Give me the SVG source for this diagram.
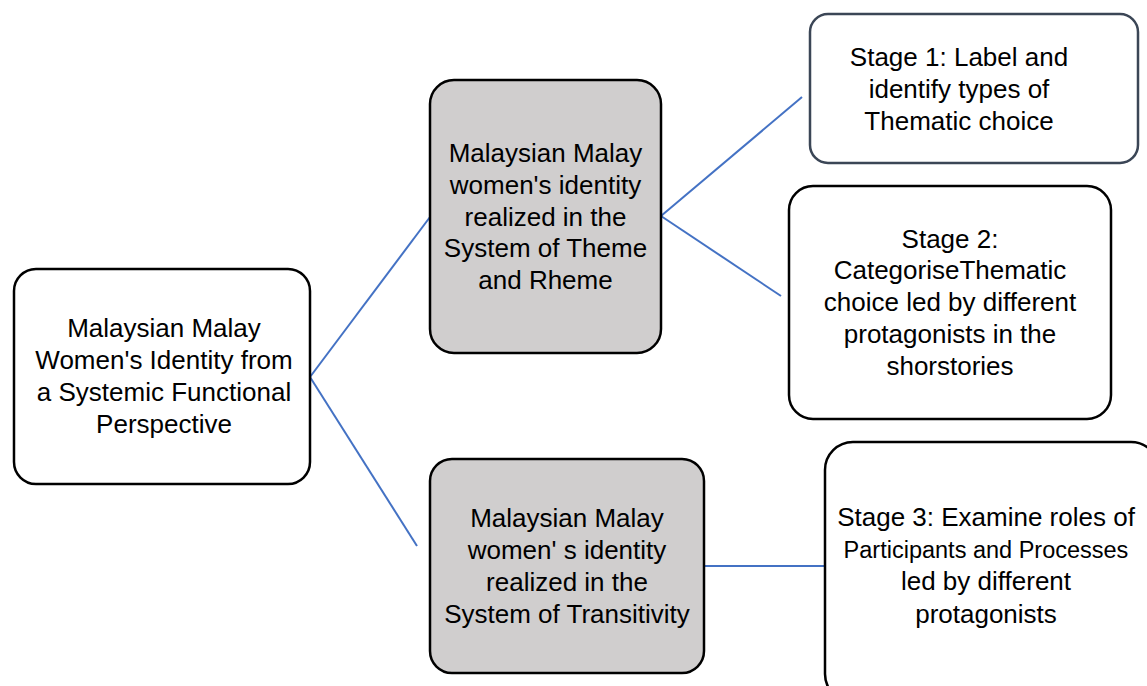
<svg xmlns="http://www.w3.org/2000/svg" width="1147" height="686" viewBox="0 0 1147 686">
<style>
.box{fill:#ffffff;stroke:#000000;stroke-width:2.5}
.gray{fill:#d0cece;stroke:#000000;stroke-width:2.5}
.slate{fill:#ffffff;stroke:#3b4656;stroke-width:2.5}
.t{font-family:"Liberation Sans",Arial,sans-serif;font-size:26px;fill:#000000;text-anchor:middle}
.c{stroke:#4472c4;stroke-width:2;fill:none}
</style>
<rect width="1147" height="686" fill="#ffffff"/>
<g id="connectors">
<line class="c" x1="310" y1="377" x2="430" y2="217"/>
<line class="c" x1="310" y1="377" x2="417" y2="546"/>
<line class="c" x1="661" y1="216" x2="802" y2="97"/>
<line class="c" x1="661" y1="216" x2="781" y2="296"/>
<line class="c" x1="704" y1="566" x2="825" y2="566"/>
</g>
<g id="root">
<rect class="box" x="14" y="269" width="296" height="215" rx="22"/>
<text class="t" x="164" y="337">Malaysian Malay</text>
<text class="t" x="164" y="369">Women's Identity from</text>
<text class="t" x="164" y="401">a Systemic Functional</text>
<text class="t" x="164" y="433">Perspective</text>
</g>
<g id="theme">
<rect class="gray" x="430" y="80" width="231" height="273" rx="24"/>
<text class="t" x="545.5" y="162">Malaysian Malay</text>
<text class="t" x="545.5" y="194">women's identity</text>
<text class="t" x="545.5" y="226">realized in the</text>
<text class="t" x="545.5" y="257">System of Theme</text>
<text class="t" x="545.5" y="289">and Rheme</text>
</g>
<g id="transitivity">
<rect class="gray" x="430" y="459" width="274" height="214" rx="22"/>
<text class="t" x="567" y="527">Malaysian Malay</text>
<text class="t" x="567" y="559">women' s identity</text>
<text class="t" x="567" y="591">realized in the</text>
<text class="t" x="567" y="623">System of Transitivity</text>
</g>
<g id="stage1">
<rect class="slate" x="810" y="14" width="328" height="149" rx="18"/>
<text class="t" x="959" y="66">Stage 1: Label and</text>
<text class="t" x="959" y="98">identify types of</text>
<text class="t" x="959" y="130">Thematic choice</text>
</g>
<g id="stage2">
<rect class="box" x="789" y="186" width="322" height="233" rx="24"/>
<text class="t" x="950" y="248">Stage 2:</text>
<text class="t" x="950" y="279">CategoriseThematic</text>
<text class="t" x="950" y="311">choice led by different</text>
<text class="t" x="950" y="343">protagonists  in the</text>
<text class="t" x="950" y="375">shorstories</text>
</g>
<g id="stage3">
<rect class="box" x="825" y="442" width="334" height="260" rx="28"/>
<text class="t" x="986" y="526">Stage 3: Examine roles of</text>
<text class="t" x="986" y="558" style="font-size:23.5px">Participants and Processes</text>
<text class="t" x="986" y="590">led by different</text>
<text class="t" x="986" y="623">protagonists</text>
</g>
</svg>
